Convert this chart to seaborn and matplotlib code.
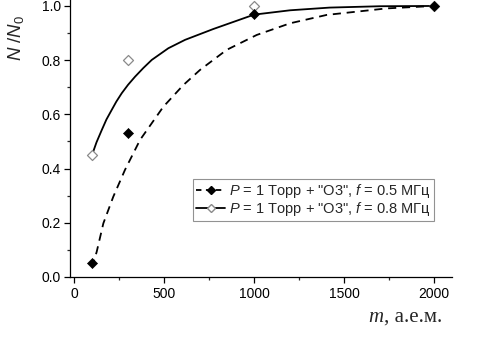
import matplotlib
matplotlib.use("Agg")
import matplotlib.pyplot as plt
from matplotlib.lines import Line2D
from matplotlib.ticker import MultipleLocator, FormatStrFormatter
import pandas as pd
import seaborn as sns

# measured points
m_points = [100, 300, 1000, 2000]
n_05 = [0.05, 0.53, 0.97, 1.0]
n_08 = [0.45, 0.80, 1.0, 1.0]

# fitted curves
fit_m_05 = [100, 126, 163, 218, 283, 367, 496, 607, 700, 848, 1015, 1200, 1404, 1737, 2000]
fit_n_05 = [0.035, 0.093, 0.198, 0.296, 0.395, 0.506, 0.628, 0.708, 0.764, 0.838, 0.893, 0.936, 0.967, 0.991, 1.0]
fit_m_08 = [100, 125, 154, 180, 209, 235, 265, 300, 339, 385, 432, 524, 617, 774, 1000, 1200, 1420, 1700, 2000]
fit_n_08 = [0.45, 0.497, 0.542, 0.581, 0.616, 0.647, 0.678, 0.709, 0.739, 0.771, 0.801, 0.844, 0.875, 0.915, 0.968, 0.984, 0.994, 0.999, 1.0]

labels = [r'$P$ = 1 Торр + "O3", $f$ = 0.5 МГц',
          r'$P$ = 1 Торр + "O3", $f$ = 0.8 МГц']

sns.set_style("ticks")
plt.rcParams['font.family'] = ['Liberation Sans', 'DejaVu Sans']
plt.rcParams['mathtext.fontset'] = 'custom'
plt.rcParams['mathtext.it'] = 'Liberation Sans:italic'
plt.rcParams['mathtext.rm'] = 'Liberation Sans'

fig = plt.figure(figsize=(4.9, 3.38), dpi=100)
ax = fig.add_axes([0.1437, 0.1805, 0.7788, 0.8195])

fit05 = pd.DataFrame({'m': fit_m_05, 'n': fit_n_05})
fit08 = pd.DataFrame({'m': fit_m_08, 'n': fit_n_08})
sns.lineplot(data=fit05, x='m', y='n', ax=ax, color='black', lw=1.3,
             linestyle=(0, (4.5, 3.2)), sort=False)
sns.lineplot(data=fit08, x='m', y='n', ax=ax, color='black', lw=1.3, sort=False)

pts = pd.DataFrame({'m': m_points, 'n05': n_05, 'n08': n_08})
sns.scatterplot(data=pts, x='m', y='n08', ax=ax, marker='D', s=26,
                facecolor='white', edgecolor='#8a8a8a', linewidth=0.9, zorder=4)
sns.scatterplot(data=pts, x='m', y='n05', ax=ax, marker='D', s=26,
                color='black', edgecolor='black', linewidth=0.5, zorder=5)

ax.set_xlim(-20, 2100)
ax.set_ylim(0, 1.022)
ax.xaxis.set_major_locator(MultipleLocator(500))
ax.xaxis.set_minor_locator(MultipleLocator(250))
ax.yaxis.set_major_locator(MultipleLocator(0.2))
ax.yaxis.set_minor_locator(MultipleLocator(0.1))
ax.yaxis.set_major_formatter(FormatStrFormatter('%.1f'))
ax.tick_params(which='major', direction='out', length=4, width=0.9,
               labelsize=10, colors='black', pad=3)
ax.tick_params(which='minor', direction='out', length=2.5, width=0.9)
sns.despine(ax=ax)
for s in ['left', 'bottom']:
    ax.spines[s].set_linewidth(0.9)
    ax.spines[s].set_color('black')
ax.set_xlabel('')
ax.set_ylabel('')

fig.text(16 / 490, 1 - 38 / 338, r'$N$ /$N_{\rm 0}$', rotation=90,
         ha='center', va='center', fontsize=13.5)
unit = fig.text(442 / 490, 1 - 317 / 338, ', а.е.м.', family='Liberation Serif',
                fontsize=15, ha='right', va='center')
fig.canvas.draw()
ux0 = unit.get_window_extent().x0 / fig.bbox.width
fig.text(ux0, 1 - 317 / 338, 'm', style='italic',
         family='Liberation Serif', fontsize=15, ha='right', va='center')

handles = [Line2D([], [], color='black', lw=1.3, linestyle=(0, (3, 2.5)),
                  marker='D', markersize=4.5, markerfacecolor='black'),
           Line2D([], [], color='black', lw=1.3, marker='D', markersize=4.5,
                  markerfacecolor='white', markeredgecolor='#8a8a8a')]
leg = ax.legend(handles, labels, loc='upper left', bbox_to_anchor=(0.321, 0.354),
                borderaxespad=0, fontsize=10.5, frameon=True, fancybox=False,
                handlelength=2.0, handletextpad=0.25, borderpad=0.22,
                labelspacing=0.0)
leg.get_frame().set_edgecolor('#777777')
leg.get_frame().set_linewidth(0.8)

fig.savefig('out.png', dpi=100)
